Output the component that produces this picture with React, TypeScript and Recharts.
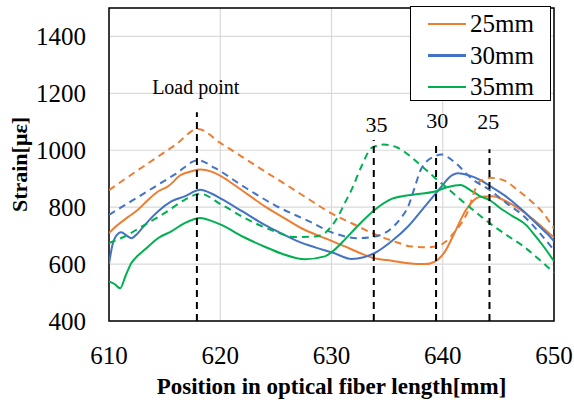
import React from 'react';
import {
  LineChart,
  Line,
  XAxis,
  YAxis,
  CartesianGrid,
  ReferenceLine,
  ReferenceDot,
  ReferenceArea,
  Legend,
} from 'recharts';

const FONT = 'Liberation Serif, Times New Roman, Times, serif';

const xTicks = [610, 620, 630, 640, 650];
const yTicks = [400, 600, 800, 1000, 1200, 1400];

const seriesNames = ['25mm', '30mm', '35mm'];
const seriesColors = ['#ED7D31', '#4472C4', '#00B050'];

// 25mm solid
const x25 = [610, 610.8, 611.7, 612.6, 613.5, 614.4, 615.3, 616.5, 617.4, 618.2, 619.2, 620.1, 621.3, 622.5, 624, 625.5, 627.3, 629.4, 631.2, 632.5, 633.9, 635.4, 636.9, 638.4, 639.3, 640.2, 641, 642.1, 643.3, 644.5, 645.4, 646.3, 647.2, 648.1, 649, 650];
const y25 = [709, 738, 765, 791, 825, 855, 873, 914, 926, 932, 925, 908, 877, 844, 803, 768, 726, 691, 662, 640, 620, 612, 603, 600, 609, 644, 705, 791, 836, 838, 826, 808, 785, 758, 728, 693];
// 25mm dashed
const x25d = [610, 612, 614, 616, 618, 620, 622, 624, 626, 628, 630, 632, 634, 636, 637, 638.5, 639.5, 640.3, 641, 641.7, 642.3, 642.8, 643.3, 644.3, 645.5, 646.7, 647.8, 648.9, 650];
const y25d = [860, 914, 967, 1020, 1075, 1026, 976, 926, 877, 827, 778, 740, 703, 675, 663, 659, 663, 680, 710, 745, 790, 850, 890, 903, 894, 861, 826, 785, 725];
// 30mm solid
const x30 = [610, 610.3, 610.6, 611.1, 611.6, 612, 612.5, 613, 613.7, 614.4, 615.6, 616.8, 618.2, 619.2, 620.1, 622, 624, 625.5, 627, 628.6, 630.2, 631.8, 632.9, 633.9, 635.4, 636.9, 638.4, 639.9, 640.6, 641.4, 642.3, 643.3, 644.5, 645.7, 646.5, 647.3, 648, 648.7, 649.4, 650];
const y30 = [600, 665, 697, 712, 700, 691, 705, 727, 758, 785, 820, 838, 861, 848, 829, 785, 738, 708, 680, 658, 639, 618, 624, 639, 680, 733, 803, 873, 905, 919, 912, 897, 868, 837, 812, 785, 758, 732, 706, 680];
// 30mm dashed
const x30d = [610, 612, 614, 616, 618, 619.5, 622, 625, 628, 630.2, 632.4, 633.9, 635.4, 636.2, 636.9, 637.4, 638.1, 639.3, 639.9, 641, 642.7, 644.2, 645.7, 647.3, 648.7, 650];
const y30d = [773, 821, 869, 917, 965, 938, 875, 805, 750, 709, 691, 697, 726, 760, 803, 860, 938, 979, 985, 960, 897, 861, 815, 768, 710, 649];
// 35mm solid
const x35 = [610, 610.5, 611, 611.5, 612, 612.6, 613.2, 614.4, 615.6, 616.8, 618.2, 619.2, 620.1, 622, 624, 625.5, 627.6, 629.4, 630.2, 631.2, 632.5, 633.9, 635.4, 636.6, 637.8, 639.2, 640.4, 641.6, 642.4, 643.3, 644.2, 645.4, 646.3, 647.5, 648.3, 649.1, 650];
const y35 = [539, 530, 515, 560, 603, 630, 650, 691, 715, 744, 762, 752, 738, 697, 661, 637, 617, 627, 648, 686, 740, 791, 829, 840, 846, 854, 870, 878, 862, 840, 825, 790, 768, 737, 700, 660, 610];
// 35mm dashed
const x35d = [610, 611.4, 613.2, 615, 616.8, 618.2, 620.1, 622.5, 624.9, 626.7, 628.5, 629.4, 630, 630.6, 631.2, 631.8, 632.7, 633.6, 634.7, 636, 637.8, 639.3, 640.4, 641.5, 642.7, 644.2, 645.7, 647.3, 648.7, 650];
const y35d = [674, 697, 738, 779, 826, 847, 809, 756, 715, 695, 697, 709, 733, 768, 815, 861, 944, 1008, 1020, 1008, 955, 903, 867, 830, 791, 744, 703, 661, 615, 570];

// marker lines (position, top value) and labels
const markerLabels = ['Load point', '35', '30', '25'];
const markerX = [617.9, 633.8, 639.4, 644.2];
const markerTop = [1134, 1036, 1022, 1004];
const labelX = [617.8, 634.05, 639.5, 644.1];
const labelY = [1222, 1092, 1104, 1100];

const zip = (xs: number[], ys: number[]) => xs.map((x, i) => ({ x, y: ys[i] }));

const series = [
  { key: 's25', data: zip(x25, y25), color: seriesColors[0], dashed: false },
  { key: 's30', data: zip(x30, y30), color: seriesColors[1], dashed: false },
  { key: 's35', data: zip(x35, y35), color: seriesColors[2], dashed: false },
  { key: 's25d', data: zip(x25d, y25d), color: seriesColors[0], dashed: true },
  { key: 's30d', data: zip(x30d, y30d), color: seriesColors[1], dashed: true },
  { key: 's35d', data: zip(x35d, y35d), color: seriesColors[2], dashed: true },
];

const LegendBox = () => (
  <div
    style={{
      width: 139,
      height: 93,
      border: '1.5px solid #000',
      background: '#fff',
      fontFamily: FONT,
      fontSize: 25,
      color: '#000',
      boxSizing: 'content-box',
    }}
  >
    {seriesNames.map((n, i) => (
      <div key={n} style={{ display: 'flex', alignItems: 'center', height: 31.5, marginTop: i === 0 ? 1 : 0 }}>
        <div style={{ width: 38, height: 2.5, background: seriesColors[i], marginLeft: 17, marginRight: 4 }} />
        <span style={{ lineHeight: '25px' }}>{n}</span>
      </div>
    ))}
  </div>
);

const XTick = (props: any) => {
  const { x, y, payload } = props;
  return (
    <text x={x} y={y + 41} textAnchor="middle" fill="#000" style={{ fontFamily: FONT, fontSize: 25 }}>
      {payload.value}
    </text>
  );
};

const YTick = (props: any) => {
  const { x, y, payload } = props;
  return (
    <text x={86} y={y + 8.5} textAnchor="end" fill="#000" style={{ fontFamily: FONT, fontSize: 25 }}>
      {payload.value}
    </text>
  );
};

const MarkerLabel = (props: any) => {
  const { viewBox, value, size } = props;
  const cx = viewBox.x + (viewBox.width || 0) / 2;
  const cy = viewBox.y + (viewBox.height || 0) / 2;
  return (
    <text x={cx} y={cy + size * 0.34} textAnchor="middle" fill="#000" style={{ fontFamily: FONT, fontSize: size }}>
      {value}
    </text>
  );
};

export default function App() {
  return (
    <div style={{ position: 'absolute', left: 0, top: 0, width: 574, height: 400, background: '#fff', fontFamily: FONT }}>
      <LineChart width={574} height={400} margin={{ top: 8, right: 20, bottom: 0, left: 0 }} style={{ fontFamily: FONT }}>
        <CartesianGrid stroke="#d9d9d9" strokeWidth={1.2} />
        <XAxis
          type="number"
          dataKey="x"
          domain={[610, 650]}
          ticks={xTicks}
          allowDataOverflow
          axisLine={false}
          tickLine={false}
          tickSize={0}
          height={79}
          tick={<XTick />}
          label={{
            value: 'Position in optical fiber length[mm]',
            position: 'insideBottom',
            offset: 6,
            style: { fill: '#000', fontSize: 23, fontWeight: 'bold', fontFamily: FONT },
          }}
        />
        <YAxis
          type="number"
          dataKey="y"
          domain={[400, 1500]}
          ticks={yTicks}
          allowDataOverflow
          axisLine={false}
          tickLine={false}
          tickSize={0}
          width={109}
          tick={<YTick />}
          label={{
            value: 'Strain[με]',
            angle: -90,
            position: 'insideLeft',
            offset: 19,
            style: { fill: '#000', fontSize: 22, fontWeight: 'bold', fontFamily: FONT, textAnchor: 'middle' },
          }}
        />
        {series.map((s) => (
          <Line
            key={s.key}
            data={s.data}
            dataKey="y"
            type="monotone"
            stroke={s.color}
            strokeWidth={2}
            strokeDasharray={s.dashed ? '7 5' : undefined}
            dot={false}
            activeDot={false}
            isAnimationActive={false}
            legendType="none"
          />
        ))}
        {markerX.map((mx, i) => (
          <ReferenceLine
            key={'m' + i}
            segment={[
              { x: mx, y: 400 },
              { x: mx, y: markerTop[i] },
            ]}
            stroke="#000"
            strokeWidth={2}
            strokeDasharray="7 5"
          />
        ))}
        {markerLabels.map((t, i) => (
          <ReferenceDot
            key={'l' + i}
            x={labelX[i]}
            y={labelY[i]}
            r={0}
            fill="none"
            stroke="none"
            label={<MarkerLabel value={t} size={i === 0 ? 20 : 22} />}
          />
        ))}
        <ReferenceArea x1={610} x2={650} y1={400} y2={1500} fill="none" fillOpacity={0} stroke="#000" strokeWidth={1.5} />
        <Legend
          layout="horizontal"
          verticalAlign="middle"
          align="center"
          content={() => <LegendBox />}
          wrapperStyle={{ position: 'absolute', left: 410, top: 6, width: 'auto' }}
        />
      </LineChart>
    </div>
  );
}
